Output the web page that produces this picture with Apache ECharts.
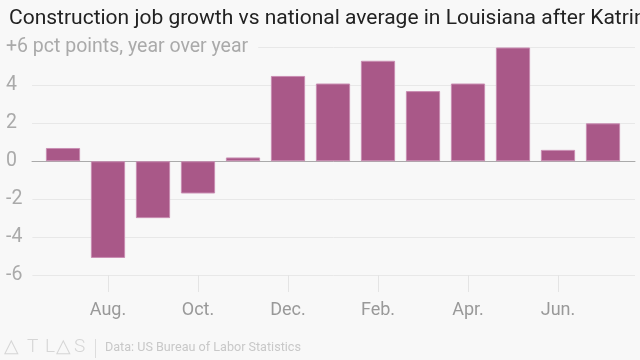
<!DOCTYPE html>
<html>
<head>
<meta charset="utf-8">
<script src="https://cdn.jsdelivr.net/npm/echarts@6/dist/echarts.min.js"></script>
<style>
html,body{margin:0;padding:0;background:#f8f8f8;}
#chart{width:640px;height:360px;}
</style>
</head>
<body>
<div id="chart"></div>
<script>
var categories = ['Jul.', 'Aug.', 'Sep.', 'Oct.', 'Nov.', 'Dec.', 'Jan.', 'Feb.', 'Mar.', 'Apr.', 'May', 'Jun.', 'Jul. '];
var values = [0.7, -5.1, -3.0, -1.7, 0.2, 4.5, 4.1, 5.3, 3.7, 4.1, 6.0, 0.6, 2.0];
var yTickValues = [-6, -4, -2, 0, 2, 4, 6];
var yTickLabels = ['-6', '-4', '-2', '0', '2', '4', '+6 pct points, year over year'];
var titleText = 'Construction job growth vs national average in Louisiana after Katrina';
var sourceText = 'Data: US Bureau of Labor Statistics';
var logoLetters = ['△', 'T', 'L', '△', 'S'];

var FONT = 'Roboto, "Noto Sans", sans-serif';
var chart = echarts.init(document.getElementById('chart'), null, {renderer: 'canvas'});

var logoX = [4, 27, 45, 56, 74];
var logoGraphics = logoLetters.map(function (ch, i) {
  return {type: 'text', left: logoX[i], top: 338,
    style: {text: ch, font: '300 19px ' + FONT, fill: '#d6d6d6'}};
});

var option = {
  backgroundColor: '#f8f8f8',
  animation: false,
  title: {
    text: titleText,
    left: 4,
    top: 3,
    textStyle: {fontFamily: FONT, fontSize: 21, fontWeight: 'normal', color: '#222'}
  },
  grid: [
    {left: 32, right: 5, top: 47.5, bottom: 85},
    {left: 40.5, right: 14.5, top: 47.5, bottom: 85}
  ],
  xAxis: [
    {
      gridIndex: 0, type: 'category', data: categories,
      axisLine: {show: true, onZero: true, lineStyle: {color: '#aaa', width: 1}},
      axisTick: {show: false}, axisLabel: {show: false}, splitLine: {show: false}
    },
    {
      gridIndex: 1, type: 'category', data: categories,
      axisLine: {show: false, onZero: false},
      axisTick: {
        show: true, alignWithLabel: true, length: 17,
        interval: function (i) { return i % 2 === 1; },
        lineStyle: {color: '#e4e4e4'}
      },
      axisLabel: {
        interval: function (i) { return i % 2 === 1; },
        margin: 26, fontFamily: FONT, fontSize: 18, color: '#999'
      }
    }
  ],
  yAxis: [
    {
      gridIndex: 0, type: 'value', min: -6, max: 6, interval: 2,
      axisLine: {show: false}, axisTick: {show: false},
      splitLine: {show: true, lineStyle: {color: '#e8e8e8', width: 1}},
      axisLabel: {
        align: 'left', margin: 26, fontFamily: FONT, fontSize: 19.5, color: '#aaa',
        backgroundColor: '#f8f8f8', padding: [2, 10, 2, 0],
        formatter: function (v) {
          var i = yTickValues.indexOf(v);
          return i >= 0 ? yTickLabels[i] : '';
        }
      }
    },
    {
      gridIndex: 1, type: 'value', min: -6, max: 6, interval: 2, show: false,
      splitLine: {show: false}
    }
  ],
  series: [{
    type: 'bar',
    xAxisIndex: 1, yAxisIndex: 1,
    data: values,
    barCategoryGap: '24%',
    itemStyle: {color: '#a95888', borderColor: '#c98db2', borderWidth: 1}
  }],
  graphic: logoGraphics.concat([
    {type: 'rect', left: 95, top: 339, shape: {width: 1, height: 19}, style: {fill: '#ddd'}},
    {type: 'text', left: 105, top: 341, style: {text: sourceText, font: '12.6px ' + FONT, fill: '#c8c8c8'}}
  ])
};
chart.setOption(option);
</script>
</body>
</html>
